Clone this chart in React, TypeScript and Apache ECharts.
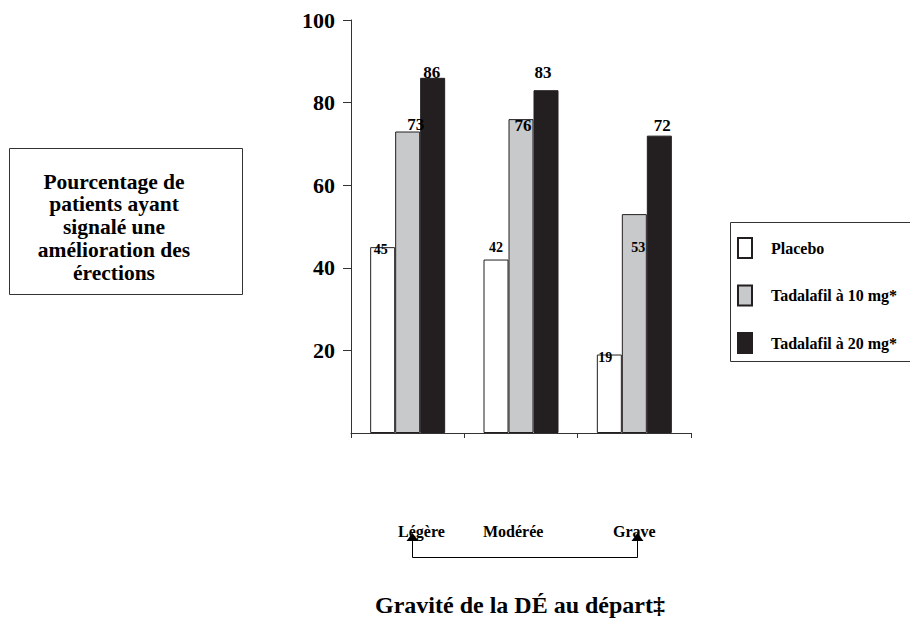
import React, { useEffect, useRef } from "react";
import * as echarts from "echarts";

const categories = ["Légère", "Modérée", "Grave"];
const seriesNames = ["Placebo", "Tadalafil à 10 mg*", "Tadalafil à 20 mg*"];
const placebo = [45, 42, 19];
const tada10 = [73, 76, 53];
const tada20 = [86, 83, 72];
const yTicks = { min: 0, max: 100, interval: 20 };
const yTitleLines = [
  "Pourcentage de",
  "patients ayant",
  "signalé une",
  "amélioration des",
  "érections",
];
const xTitle = "Gravité de la DÉ au départ‡";

// label styling (offsets and sizes), separate from data
const labelStyle = [
  [{ dx: -2, dy: 9, fs: 14 }, { dx: 0, dy: -5, fs: 14 }, { dx: -4, dy: 9.5, fs: 14 }],
  [{ dx: 8, dy: 1.5, fs: 17 }, { dx: 2, dy: 15, fs: 17 }, { dx: 4, dy: 40.6, fs: 14 }],
  [{ dx: -1, dy: 3.5, fs: 17 }, { dx: -3, dy: -9, fs: 17 }, { dx: 3, dy: -1.5, fs: 17 }],
];

const SERIF = "'Liberation Serif', 'Times New Roman', serif";

export default function App() {
  const ref = useRef<HTMLDivElement>(null);
  useEffect(() => {
    if (!ref.current) return;
    const chart = echarts.init(ref.current, null, { renderer: "svg" });
    const fills = ["#ffffff", "#c8c9cb", "#231f20"];
    const values = [placebo, tada10, tada20];
    const series = values.map((vals, si) => ({
      name: seriesNames[si],
      type: "bar",
      barWidth: 25,
      barGap: "0%",
      itemStyle: { color: fills[si], borderColor: "#231f20", borderWidth: 1 },
      data: vals.map((v, ci) => ({
        value: v,
        label: {
          show: true,
          position: "top",
          distance: 0,
          offset: [labelStyle[si][ci].dx, labelStyle[si][ci].dy],
          fontSize: labelStyle[si][ci].fs,
          fontWeight: "bold",
          fontFamily: SERIF,
          color: "#000",
        },
      })),
    }));

    const catLabelX = [398, 483, 613];

    chart.setOption({
      animation: false,
      backgroundColor: "#ffffff",
      grid: { left: 351, top: 20, width: 340, height: 413 },
      xAxis: {
        type: "category",
        data: categories,
        axisLine: { lineStyle: { color: "#333", width: 1 } },
        axisTick: { show: true, length: 5, lineStyle: { color: "#333" } },
        axisLabel: { show: false },
      },
      yAxis: {
        type: "value",
        min: yTicks.min,
        max: yTicks.max,
        interval: yTicks.interval,
        axisLine: { show: true, lineStyle: { color: "#333", width: 1 } },
        axisTick: { show: true, length: 8, lineStyle: { color: "#333" } },
        splitLine: { show: false },
        axisLabel: {
          showMinLabel: false,
          fontSize: 22,
          fontWeight: "bold",
          fontFamily: SERIF,
          color: "#000",
          margin: 16,
        },
      },
      legend: {
        orient: "vertical",
        left: 737,
        top: 237,
        padding: 0,
        itemWidth: 14,
        itemHeight: 20,
        itemGap: 25.5,
        icon: "rect",
        data: seriesNames,
        textStyle: {
          fontSize: 16,
          fontWeight: "bold",
          fontFamily: SERIF,
          color: "#000",
          padding: [0, 0, 0, 14],
        },
      },
      series,
      graphic: [
        {
          type: "rect",
          shape: { x: 9.5, y: 148.5, width: 233, height: 146 },
          style: { fill: "none", stroke: "#333", lineWidth: 1 },
          silent: true,
        },
        {
          type: "text",
          x: 114,
          y: 227,
          style: {
            text: yTitleLines.join("\n"),
            fontSize: 21.5,
            fontWeight: "bold",
            fontFamily: SERIF,
            fill: "#000",
            align: "center",
            verticalAlign: "middle",
            lineHeight: 22.75,
          },
        },
        {
          type: "rect",
          shape: { x: 730.5, y: 222.5, width: 200, height: 139 },
          style: { fill: "none", stroke: "#333", lineWidth: 1 },
          silent: true,
        },
        ...categories.map((c, i) => ({
          type: "text",
          x: catLabelX[i],
          y: 531,
          style: {
            text: c,
            fontSize: 16,
            fontWeight: "bold",
            fontFamily: SERIF,
            fill: "#000",
            align: "left",
            verticalAlign: "middle",
          },
        })),
        {
          type: "polyline",
          shape: { points: [[412.5, 539], [412.5, 557.5], [637.5, 557.5], [637.5, 539]] },
          style: { fill: "none", stroke: "#000", lineWidth: 1 },
        },
        {
          type: "polygon",
          shape: { points: [[412.5, 533], [406.5, 541], [418.5, 541]] },
          style: { fill: "#000" },
        },
        {
          type: "polygon",
          shape: { points: [[637.5, 533], [631.5, 541], [643.5, 541]] },
          style: { fill: "#000" },
        },
        {
          type: "text",
          x: 520,
          y: 605,
          style: {
            text: xTitle,
            fontSize: 24,
            fontWeight: "bold",
            fontFamily: SERIF,
            fill: "#000",
            align: "center",
            verticalAlign: "middle",
          },
        },
      ],
    });
    return () => chart.dispose();
  }, []);
  return (
    <div
      ref={ref}
      style={{ position: "absolute", left: 0, top: 0, width: 910, height: 619 }}
    />
  );
}
